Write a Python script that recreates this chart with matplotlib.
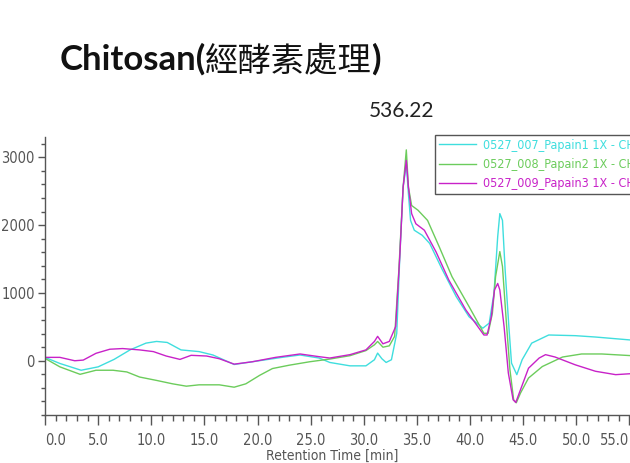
import matplotlib
matplotlib.use('Agg')
import matplotlib.pyplot as plt
from matplotlib import font_manager
from matplotlib.font_manager import FontProperties
from matplotlib.ticker import FixedLocator, MultipleLocator, FormatStrFormatter

# retention time [min] / signal
cyan_t = [0, 1.4, 3.4, 5.0, 6.5, 8.0, 9.5, 10.5, 11.5, 12.8, 14.5, 15.8, 17.8, 19.5, 22.3, 24.0,
          25.8, 26.8, 28.7, 30.2, 31.0, 31.3, 31.7, 32.1, 32.6, 33.1, 33.4, 33.7, 34.0, 34.2,
          34.4, 34.75, 35.5, 36.2, 37.4, 38.7, 39.9, 41.2, 41.8, 42.25, 42.6, 42.8, 43.05, 43.3,
          43.65, 43.9, 44.4, 44.9, 45.8, 47.4, 49.9, 51.8, 55.2]
cyan_v = [50, -40, -140, -90, 20, 160, 260, 285, 270, 160, 135, 85, -55, -15, 50, 85,
          40, -25, -75, -75, 15, 113, 30, -25, 15, 405, 1580, 2560, 2910, 2460,
          2070, 1925, 1850, 1730, 1340, 945, 650, 480, 555, 995, 1830, 2170, 2070, 1340,
          505, -35, -205, 15, 260, 380, 370, 350, 305]

green_t = [0, 1.4, 3.3, 4.8, 6.4, 7.7, 8.9, 10.5, 12.0, 13.3, 14.5, 16.4, 17.8, 18.9, 20.2, 21.4,
           23.0, 24.9, 26.8, 28.7, 30.2, 31.0, 31.3, 31.8, 32.4, 32.9, 33.3, 33.7, 34.0, 34.2,
           34.5, 35.1, 36.0, 37.1, 38.3, 39.9, 41.3, 41.7, 42.1, 42.4, 42.8, 43.05, 43.4, 43.75,
           44.1, 44.35, 44.75, 45.5, 46.8, 48.7, 50.5, 52.4, 55.2]
green_v = [35, -90, -200, -140, -140, -165, -240, -290, -340, -375, -355, -355, -390, -340, -215, -115,
           -65, -15, 25, 75, 150, 235, 285, 200, 220, 360, 1340, 2560, 3110, 2560,
           2290, 2220, 2070, 1680, 1240, 800, 405, 405, 700, 1240, 1610, 1390, 600, -130,
           -575, -620, -475, -255, -85, 55, 100, 100, 75]

magenta_t = [0, 1.4, 2.8, 3.6, 4.8, 6.1, 7.3, 8.9, 10.2, 11.4, 12.7, 13.75, 15.2, 16.4, 17.8, 19.5,
             21.7, 24.0, 25.8, 26.8, 28.7, 30.2, 31.0, 31.3, 31.8, 32.4, 33.0, 33.4, 33.7, 34.0,
             34.2, 34.5, 34.9, 35.7, 36.8, 38.0, 39.6, 41.3, 41.6, 42.0, 42.3, 42.6, 42.8, 43.2,
             43.6, 44.05, 44.3, 44.75, 45.5, 46.5, 47.1, 48.0, 49.9, 51.8, 53.7, 55.2]
magenta_v = [50, 50, 0, 10, 110, 170, 180, 160, 135, 70, 20, 80, 70, 30, -50, -15,
             50, 100, 60, 40, 90, 160, 285, 360, 250, 285, 505, 1580, 2560, 2955,
             2560, 2170, 2020, 1925, 1605, 1190, 750, 380, 380, 650, 1045, 1140, 1045, 505,
             -180, -575, -615, -425, -110, 40, 90, 55, -60, -155, -205, -190]

labels = ['0527_007_Papain1 1X - CH2', '0527_008_Papain2 1X - CH2', '0527_009_Papain3 1X - CH2']
colors = ['#3fdede', '#6ccc5c', '#c822c8']
x_ticks = [0, 5, 10, 15, 20, 25, 30, 35, 40, 45, 50, 55]
y_ticks = [0, 1000, 2000, 3000]

# look for a condensed face, the chromatogram software uses a narrow one
narrow_path = None
for f in font_manager.fontManager.ttflist:
    if ('Narrow' in f.name or 'Condensed' in f.name or
            f.stretch in ('condensed', 'semi-condensed', 'extra-condensed')):
        if f.weight in (400, 'normal', 'regular') and f.style == 'normal':
            narrow_path = f.fname
            break


def narrow_font(size):
    if narrow_path:
        return FontProperties(fname=narrow_path, size=size)
    return FontProperties(family='Liberation Sans', size=size * 0.88)


W, H = 630, 463
fig = plt.figure(figsize=(W / 100, H / 100), dpi=100)

# axes: left spine at x=45px, bottom at y=415px, top at y=137px, right edge at image edge
ax = fig.add_axes([45 / W, (H - 415) / H, (W - 45) / W, (415 - 137) / H])
ax.plot(cyan_t, cyan_v, color=colors[0], lw=1.0, label=labels[0])
ax.plot(green_t, green_v, color=colors[1], lw=1.0, label=labels[1])
ax.plot(magenta_t, magenta_v, color=colors[2], lw=1.0, label=labels[2])

ax.set_xlim(0, 55.05)
ax.set_ylim(-800, 3300)
for s in ['top', 'right']:
    ax.spines[s].set_visible(False)
for s in ['left', 'bottom']:
    ax.spines[s].set_color('#555555')
    ax.spines[s].set_linewidth(1.0)

ax.xaxis.set_major_locator(FixedLocator(x_ticks))
ax.xaxis.set_minor_locator(MultipleLocator(1))
ax.xaxis.set_major_formatter(FormatStrFormatter('%.1f'))
ax.yaxis.set_major_locator(FixedLocator(y_ticks))
ax.yaxis.set_minor_locator(MultipleLocator(200))
ax.tick_params(axis='x', which='major', length=7, width=1, color='#555555', pad=6,
               labelcolor='#555555')
ax.tick_params(axis='x', which='minor', length=4, width=1, color='#555555')
ax.tick_params(axis='y', which='major', length=5, width=1, color='#555555', pad=2.5,
               labelcolor='#555555')
ax.tick_params(axis='y', which='minor', length=3, width=1, color='#555555')

tick_fp = narrow_font(10.5)
for lab in ax.get_xticklabels() + ax.get_yticklabels():
    lab.set_fontproperties(tick_fp)
xl = ax.get_xticklabels()
xl[0].set_horizontalalignment('left')
xl[-1].set_horizontalalignment('right')

ax.set_xlabel('Retention Time [min]', fontproperties=narrow_font(10), color='#555555')
ax.xaxis.set_label_coords(27 / 55.05, -0.122)

# legend box runs past the right edge of the picture, as in the screenshot
leg = ax.legend(loc='upper left', bbox_to_anchor=(435 / W, (H - 135) / H),
                bbox_transform=fig.transFigure, borderaxespad=0, borderpad=0.3,
                fancybox=False, framealpha=1, edgecolor='#555555',
                handlelength=3.0, handletextpad=0.55, labelspacing=0.5,
                prop=narrow_font(9))
leg.get_frame().set_linewidth(1.0)
for txt, ln in zip(leg.get_texts(), leg.get_lines()):
    txt.set_color(ln.get_color())

# title pieces: bold latin, regular CJK
renderer = fig.canvas.get_renderer()
x = 60
pieces = [('Chitosan(', 'bold', 25), ('經酵素處理', 'normal', 24), (')', 'bold', 25)]
for s, w, sz in pieces:
    t = fig.text(x / W, (H - 70) / H, s, fontsize=sz, weight=w, va='baseline',
                 family=['Lato', 'Noto Sans CJK TC', 'DejaVu Sans'], color='#111111')
    bb = t.get_window_extent(renderer)
    x = bb.x1 - 1

fig.text(402 / W, (H - 117) / H, '536.22', fontsize=15, ha='center', va='baseline',
         family=['Lato', 'DejaVu Sans'], color='#222222')

fig.savefig('out.png', dpi=100)
